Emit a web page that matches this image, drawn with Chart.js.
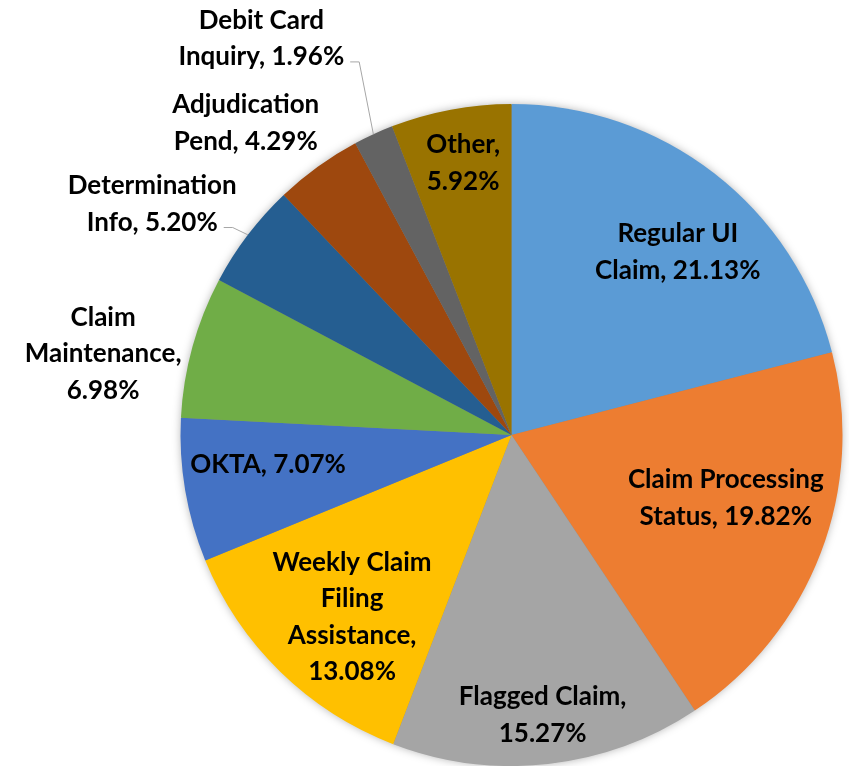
<!DOCTYPE html>
<html>
<head>
<meta charset="utf-8">
<script src="https://cdn.jsdelivr.net/npm/chart.js@4.4.0/dist/chart.umd.min.js"></script>
<style>
html,body{margin:0;padding:0;background:#fff;}
#wrap{width:849px;height:766px;position:relative;}
</style>
</head>
<body>
<div id="wrap"><canvas id="c"></canvas></div>
<script>
const categories = ["Regular UI Claim","Claim Processing Status","Flagged Claim","Weekly Claim Filing Assistance","OKTA","Claim Maintenance","Determination Info","Adjudication Pend","Debit Card Inquiry","Other"];
const values = [21.13,19.82,15.27,13.08,7.07,6.98,5.20,4.29,1.96,5.92];
const colors = ["#5B9BD5","#ED7D31","#A5A5A5","#FFC000","#4472C4","#70AD47","#255E91","#9E480E","#636363","#997300"];
const labelLines = [
  ["Regular UI","Claim, {v}"],
  ["Claim Processing","Status, {v}"],
  ["Flagged Claim,","{v}"],
  ["Weekly Claim","Filing","Assistance,","{v}"],
  ["OKTA, {v}"],
  ["Claim","Maintenance,","{v}"],
  ["Determination","Info, {v}"],
  ["Adjudication","Pend, {v}"],
  ["Debit Card","Inquiry, {v}"],
  ["Other,","{v}"]
];
// label placement: [radius factor, angle offset (deg) from slice middle, leader line]
const labelPlace = [
  [0.747, 4.5, false],
  [0.675, -4.5, false],
  [0.851, 0, false],
  [0.731, -3.1, false],
  [0.741, 2.7, false],
  [1.258, -4.2, false],
  [1.29, -4.5, true],
  [1.238, -4.6, false],
  [1.416, -7.6, true],
  [0.835, 0.5, false]
];

const FONT = 'bold 26px Lato, "Open Sans", sans-serif';
const LINE_H = 36.5;

const shadowPlugin = {
  id: 'shadowPlugin',
  beforeDatasetsDraw(chart){
    const arc = chart.getDatasetMeta(0).data[0];
    if(!arc) return;
    const ctx = chart.ctx;
    ctx.save();
    ctx.shadowColor = 'rgba(0,0,0,0.35)';
    ctx.shadowBlur = 10;
    ctx.fillStyle = '#888';
    ctx.beginPath();
    ctx.arc(arc.x, arc.y, arc.outerRadius - 1, 0, Math.PI*2);
    ctx.fill();
    ctx.restore();
  }
};

const labelPlugin = {
  id: 'labelPlugin',
  afterDatasetsDraw(chart){
    const ctx = chart.ctx;
    const arcs = chart.getDatasetMeta(0).data;
    ctx.save();
    ctx.font = FONT;
    ctx.textAlign = 'center';
    ctx.textBaseline = 'middle';
    arcs.forEach((arc, i) => {
      const p = labelPlace[i];
      const mid = (arc.startAngle + arc.endAngle) / 2;
      const a = mid + p[1] * Math.PI / 180;
      const R = arc.outerRadius;
      const cx = arc.x + Math.cos(a) * R * p[0];
      const cy = arc.y + Math.sin(a) * R * p[0];
      const lines = labelLines[i].map(s => s.replace('{v}', values[i].toFixed(2) + '%'));
      const n = lines.length;
      const y0 = cy - (n - 1) * LINE_H / 2;
      if (p[2]) {
        const last = lines[n-1];
        const w = ctx.measureText(last).width;
        const right = cx + w / 2;
        const ly = y0 + (n - 1) * LINE_H + 5;
        const ax = arc.x + Math.cos(mid) * R;
        const ay = arc.y + Math.sin(mid) * R;
        ctx.strokeStyle = '#A6A6A6';
        ctx.lineWidth = 1;
        ctx.beginPath();
        ctx.moveTo(right + 6, ly);
        ctx.lineTo(right + 15, ly);
        ctx.lineTo(ax, ay);
        ctx.stroke();
      }
      ctx.fillStyle = '#000';
      lines.forEach((s, k) => ctx.fillText(s, cx, y0 + k * LINE_H));
    });
    ctx.restore();
  }
};

new Chart(document.getElementById('c'), {
  type: 'pie',
  data: {
    labels: categories,
    datasets: [{
      data: values,
      backgroundColor: colors,
      borderWidth: 0
    }]
  },
  options: {
    responsive: true,
    maintainAspectRatio: false,
    animation: false,
    layout: { padding: { left: 180, right: 6, top: 104, bottom: 0 } },
    plugins: { legend: { display: false }, tooltip: { enabled: false } }
  },
  plugins: [shadowPlugin, labelPlugin]
});
</script>
</body>
</html>
